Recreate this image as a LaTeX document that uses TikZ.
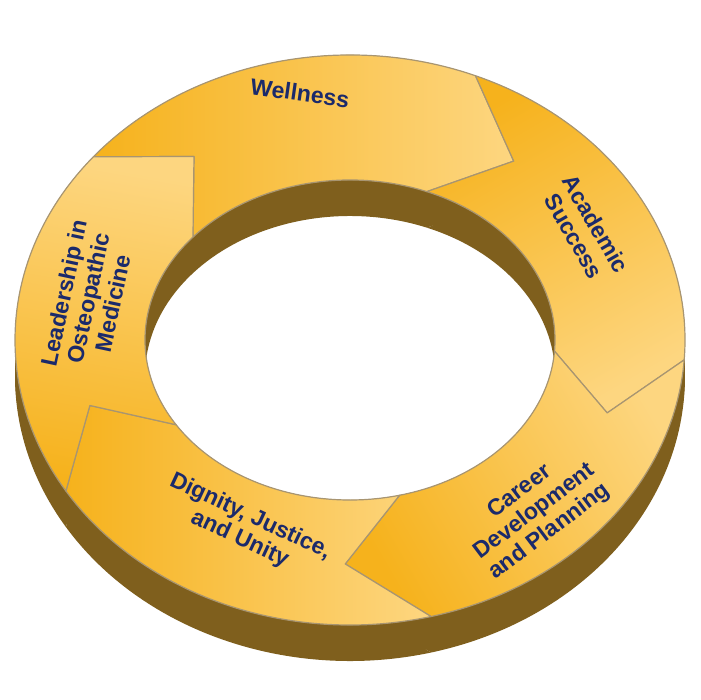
\documentclass[tikz,border=0pt]{standalone}
\usepackage{fontspec}
\setmainfont{Liberation Sans}
\definecolor{navy}{HTML}{1B2A6B}
\definecolor{goldA}{HTML}{F6B21C}
\definecolor{goldB}{HTML}{FDD680}
\definecolor{brownA}{HTML}{6E4F12}
\definecolor{brownB}{HTML}{A68536}
\newcommand\pp[3]{{350+#1*cos(#3)},{360+#2*sin(#3)}}
\newcommand\seg[2]{(\pp{335}{285}{#1}) arc[start angle=#1,end angle=#2,x radius=335,y radius=285] -- (\pp{272}{224}{#2-15}) -- (\pp{205}{160}{#2}) arc[start angle=#2,end angle=#1,x radius=205,y radius=160] -- (\pp{272}{224}{#1-15}) -- cycle}
\tikzset{lab/.style={text=navy,font=\bfseries\fontsize{23}{25}\selectfont,align=center,inner sep=0pt}}
\begin{document}
\begin{tikzpicture}[x=1pt,y=1pt]
\useasboundingbox (0,0) rectangle (701,700);
% extrusions
\foreach \a/\b in {140/68,68/-4,-4/-76,-76/-148,-148/-220}{
  \foreach \s in {36,32,...,0}{
    \fill[brownA!70!brownB,yshift=-\s] \seg{\a}{\b};
  }
}
% top faces
\foreach \a/\b/\g in {140/68/0,68/-4/-60,-4/-76/30,-76/-148/0,-148/-220/80}{
  \shade[left color=goldA,right color=goldB,shading angle=\g+90] \seg{\a}{\b};
  \draw[brownA!60,line width=1.2pt,line join=round] \seg{\a}{\b};
}
\node[lab,rotate=-8] (w) at (300,607) {Wellness};
\node[lab,rotate=-60] (a) at (585,470) {Academic\\Success};
\node[lab,rotate=37] (c) at (535,188) {Career\\Development\\and Planning};
\node[lab,rotate=-25] (d) at (245,172) {Dignity, Justice,\\and Unity};
\node[lab,rotate=78] (l) at (88,402) {Leadership in\\Osteopathic\\Medicine};
\end{tikzpicture}
\end{document}
